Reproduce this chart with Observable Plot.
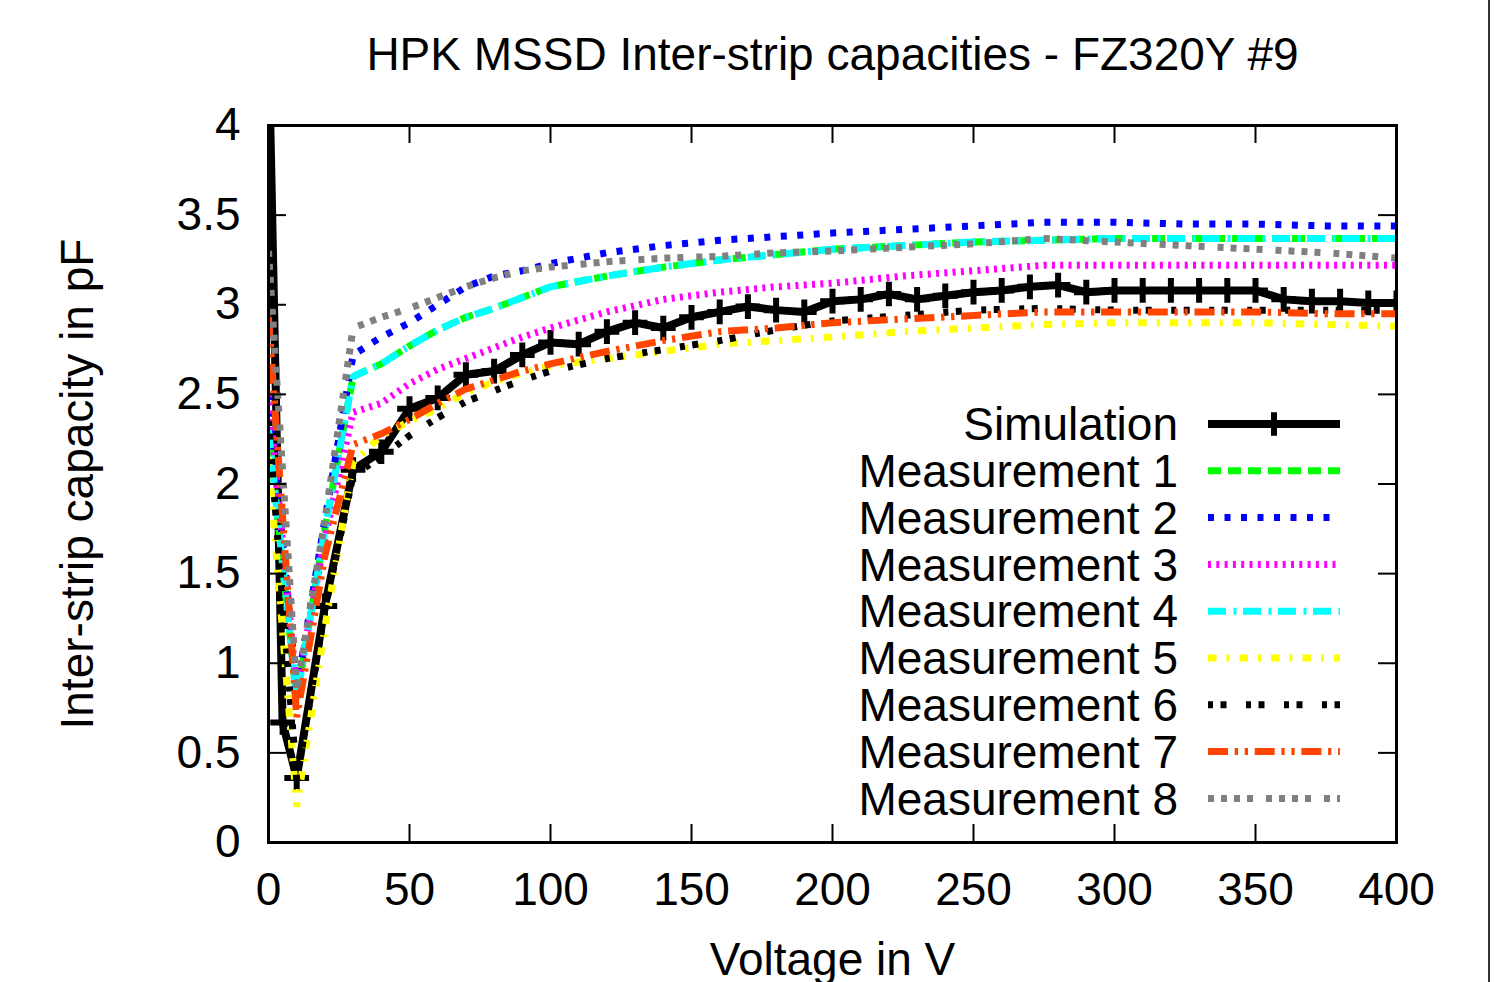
<!DOCTYPE html>
<html><head><meta charset="utf-8">
<script src="https://cdn.jsdelivr.net/npm/d3@7"></script>
<script src="https://cdn.jsdelivr.net/npm/@observablehq/plot@0.6"></script>
<style>
body{margin:0;background:#fff;}
#wrap{position:relative;width:1503px;height:982px;overflow:hidden;background:#fff;}
#border{position:absolute;left:1488px;top:0;width:2px;height:982px;background:#333;}
svg{position:absolute;left:0;top:0;}
</style></head><body><div id="wrap"><div id="border"></div></div>
<script>
// ---- data ----
const titleText = "HPK MSSD Inter-strip capacities - FZ320Y #9";
const xLabel = "Voltage in V";
const yLabel = "Inter-strip capacity in pF";
const seriesNames = ["Simulation","Measurement 1","Measurement 2","Measurement 3","Measurement 4","Measurement 5","Measurement 6","Measurement 7","Measurement 8"];
const xTicks = [0,50,100,150,200,250,300,350,400];
const yTicks = [0,0.5,1,1.5,2,2.5,3,3.5,4];
const yTickLabels = ["0","0.5","1","1.5","2","2.5","3","3.5","4"];

const voltageSim = [0,5,10,20,30,40,50,60,70,80,90,100,110,120,130,140,150,160,170,180,190,200,210,220,230,240,250,260,270,280,290,300,310,320,330,340,350,360,370,380,390,400];
const simulation = [4.5,0.67,0.36,1.32,2.08,2.18,2.42,2.48,2.61,2.63,2.72,2.79,2.78,2.85,2.9,2.87,2.93,2.96,2.99,2.97,2.96,3.02,3.03,3.06,3.03,3.05,3.07,3.08,3.1,3.11,3.07,3.08,3.08,3.08,3.08,3.08,3.08,3.03,3.02,3.02,3.01,3.01];

const voltageMeas = [0,10,20,30,40,50,60,70,80,90,100,120,140,160,180,200,225,250,275,300,325,350,375,400];
const meas1 = [2.3,0.8,1.75,2.6,2.67,2.77,2.86,2.93,2.98,3.04,3.1,3.16,3.21,3.25,3.28,3.31,3.33,3.35,3.36,3.37,3.37,3.37,3.37,3.37];
const meas2 = [2.5,0.85,1.8,2.72,2.82,2.9,3.0,3.1,3.16,3.19,3.23,3.29,3.33,3.36,3.38,3.4,3.42,3.44,3.46,3.46,3.45,3.45,3.44,3.44];
const meas3 = [2.5,0.85,1.7,2.4,2.45,2.56,2.64,2.7,2.76,2.82,2.87,2.96,3.03,3.07,3.1,3.12,3.16,3.19,3.22,3.22,3.22,3.22,3.22,3.22];
const meas4 = [2.3,0.8,1.75,2.6,2.67,2.77,2.86,2.93,2.98,3.04,3.1,3.16,3.21,3.25,3.28,3.31,3.33,3.35,3.36,3.37,3.37,3.37,3.37,3.37];
const meas5 = [2.15,0.2,1.2,2.12,2.27,2.35,2.42,2.51,2.57,2.62,2.66,2.7,2.74,2.78,2.8,2.82,2.85,2.87,2.89,2.9,2.9,2.9,2.89,2.88];
const meas6 = [2.35,0.35,1.3,2.05,2.15,2.27,2.37,2.46,2.52,2.58,2.63,2.7,2.75,2.8,2.86,2.91,2.94,2.97,2.98,2.97,2.97,2.97,2.97,2.97];
const meas7 = [2.93,0.7,1.6,2.22,2.28,2.36,2.45,2.53,2.58,2.63,2.67,2.74,2.8,2.85,2.87,2.9,2.92,2.94,2.96,2.96,2.96,2.96,2.95,2.95];
const meas8 = [3.3,0.85,1.8,2.87,2.93,2.98,3.04,3.1,3.15,3.19,3.21,3.24,3.26,3.27,3.29,3.3,3.32,3.34,3.37,3.35,3.33,3.31,3.29,3.26];
const measurements = [meas1,meas2,meas3,meas4,meas5,meas6,meas7,meas8];

// ---- styles ----
const styles = [
  {color:"#000000", dash:null, width:8},
  {color:"#00ff00", dash:"13,7", width:7},
  {color:"#0000ff", dash:"6,10.5", width:7},
  {color:"#ff00ff", dash:"3,5.3", width:7},
  {color:"#00ffff", dash:"18,7.5,3,6.5", width:7},
  {color:"#ffff00", dash:"8.5,10,3,10", width:7},
  {color:"#000000", dash:"5,7.5,6,19.5", width:7},
  {color:"#ff4500", dash:"20,6.7,3.3,6.7,3.3,6.7", width:7},
  {color:"#808080", dash:"6,7,6,7,6,7,6,13", width:7}
];
const FONT = "'Liberation Sans', Arial, Helvetica, sans-serif";
const W = 1503, H = 982;
const M = {top:125, right:107, bottom:140, left:268};
const frameW = W - M.left - M.right, frameH = H - M.top - M.bottom;
const tickLen = 18;

const simRows = voltageSim.map((v,i)=>({x:v, y:simulation[i]}));
const measRows = measurements.map(arr => voltageMeas.map((v,i)=>({x:v, y:arr[i]})));

const marks = [];
marks.push(Plot.line(simRows, {x:"x", y:"y", stroke:styles[0].color, strokeWidth:styles[0].width, clip:true}));
marks.push(Plot.dot(simRows, {x:"x", y:"y", symbol:"plus", r:8, stroke:"#000", strokeWidth:6, clip:true}));
measRows.forEach((rows,k)=>{
  const s = styles[k+1];
  marks.push(Plot.line(rows, {x:"x", y:"y", stroke:s.color, strokeWidth:s.width, strokeDasharray:s.dash, strokeLinecap:"butt", strokeLinejoin:"miter", clip:true}));
});
// inward ticks on all four sides
marks.push(Plot.tickX(xTicks, {x:d=>d, insetTop:frameH-tickLen, stroke:"#000", strokeWidth:2}));
marks.push(Plot.tickX(xTicks, {x:d=>d, insetBottom:frameH-tickLen, stroke:"#000", strokeWidth:2}));
marks.push(Plot.tickY(yTicks, {y:d=>d, insetRight:frameW-tickLen, stroke:"#000", strokeWidth:2}));
marks.push(Plot.tickY(yTicks, {y:d=>d, insetLeft:frameW-tickLen, stroke:"#000", strokeWidth:2}));
marks.push(Plot.frame({stroke:"#000", strokeWidth:3}));
marks.push(Plot.axisX({ticks:xTicks, tickSize:0, tickPadding:30, fontSize:46, label:null, tickFormat:d=>String(d)}));
marks.push(Plot.axisY({ticks:yTicks, tickSize:0, tickPadding:28, fontSize:46, label:null, tickFormat:d=>yTickLabels[yTicks.indexOf(d)]}));
marks.push(Plot.text([titleText], {text:d=>d, frameAnchor:"top", dy:-70, textAnchor:"middle", lineAnchor:"middle", fontSize:46, fill:"#000"}));
marks.push(Plot.text([xLabel], {text:d=>d, frameAnchor:"bottom", dy:118, textAnchor:"middle", lineAnchor:"middle", fontSize:46, fill:"#000"}));
marks.push(Plot.text([yLabel], {text:d=>d, frameAnchor:"left", dx:-190, rotate:-90, textAnchor:"middle", lineAnchor:"middle", fontSize:46, fill:"#000"}));

const chart = Plot.plot({
  width:W, height:H,
  marginTop:M.top, marginRight:M.right, marginBottom:M.bottom, marginLeft:M.left,
  x:{domain:[0,400]},
  y:{domain:[0,4]},
  style:{fontFamily:FONT, fontSize:"46px", background:"transparent", color:"#000"},
  marks
});
document.getElementById("wrap").appendChild(chart);

// ---- legend (inside plot, right side) ----
const svg = d3.select(chart);
const lg = svg.append("g").attr("font-family", FONT).attr("font-size", 46);
const rowY0 = 424, rowStep = 46.8, textRight = 1178, lx1 = 1208, lx2 = 1340;
seriesNames.forEach((name,i)=>{
  const y = rowY0 + i*rowStep;
  lg.append("text").attr("x", textRight).attr("y", y).attr("dy","0.35em").attr("text-anchor","end").attr("fill","#000").text(name);
  const s = styles[i];
  const ln = lg.append("line").attr("x1",lx1).attr("x2",lx2).attr("y1",y).attr("y2",y)
    .attr("stroke", s.color).attr("stroke-width", s.width).attr("stroke-linecap","butt");
  if (s.dash) ln.attr("stroke-dasharray", s.dash);
  if (i===0) {
    lg.append("path").attr("d", d3.symbol(d3.symbolPlus, 180)()).attr("transform",`translate(${(lx1+lx2)/2},${y})`)
      .attr("fill","none").attr("stroke","#000").attr("stroke-width",6);
  }
});
</script>
</body></html>
